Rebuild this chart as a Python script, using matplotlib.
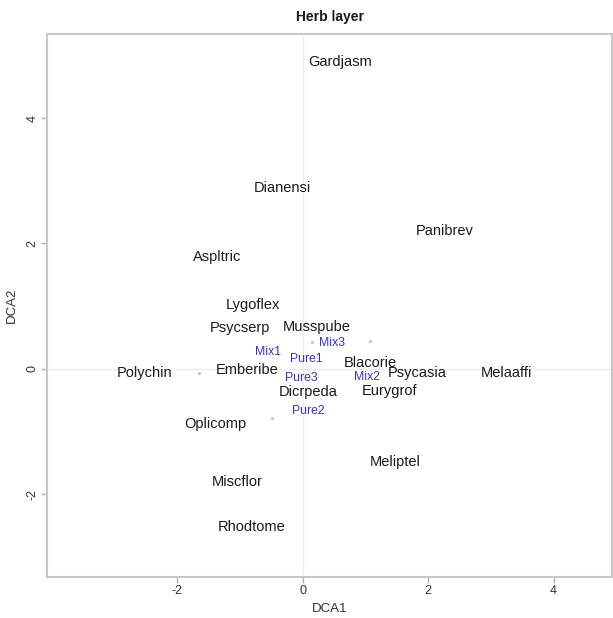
import matplotlib
matplotlib.use("Agg")
import matplotlib.pyplot as plt

plt.rcParams['font.family'] = ['Liberation Sans', 'DejaVu Sans']

# Species scores (DCA1, DCA2)
species = ["Gardjasm", "Dianensi", "Panibrev", "Aspltric", "Lygoflex", "Psycserp",
           "Musspube", "Blacorie", "Emberibe", "Polychin", "Psycasia", "Melaaffi",
           "Dicrpeda", "Eurygrof", "Oplicomp", "Meliptel", "Miscflor", "Rhodtome"]
species_x = [0.59, -0.33, 2.26, -1.37, -0.80, -1.00, 0.22, 1.08, -0.89, -2.52,
             1.82, 3.25, 0.08, 1.39, -1.40, 1.47, -1.04, -0.81]
species_y = [4.90, 2.89, 2.20, 1.79, 1.02, 0.65, 0.67, 0.10, -0.02, -0.06,
             -0.06, -0.06, -0.37, -0.35, -0.88, -1.48, -1.80, -2.52]

# Site scores (DCA1, DCA2)
sites = ["Mix3", "Mix1", "Pure1", "Pure3", "Mix2", "Pure2"]
sites_x = [0.46, -0.56, 0.06, -0.02, 1.02, 0.08]
sites_y = [0.41, 0.27, 0.16, -0.14, -0.13, -0.67]

# Unlabelled points
extra_x = [1.07, -1.66, -0.49, 0.14]
extra_y = [0.45, -0.06, -0.78, 0.43]

x_ticks = [-2, 0, 2, 4]
y_ticks = [-2, 0, 2, 4]

fig = plt.figure(figsize=(6.13, 6.18), dpi=100)
ax = fig.add_axes([47 / 613, 41 / 618, (612 - 47) / 613, (577 - 34) / 618])

ax.set_xlim(-4.08, 4.93)
ax.set_ylim(-3.32, 5.34)

ax.axhline(0, color="#ececec", lw=1.0, zorder=0)
ax.axvline(0, color="#ececec", lw=1.0, zorder=0)

ax.scatter(extra_x, extra_y, s=6, color="#c8c8c8", zorder=1, linewidths=0)

for name, x, y in zip(species, species_x, species_y):
    ax.text(x, y, name, ha="center", va="center", fontsize=10.5, color="#1a1a1a", zorder=3)

for name, x, y in zip(sites, sites_x, sites_y):
    ax.text(x, y, name, ha="center", va="center", fontsize=8.8, color="#3434d0", zorder=4)

ax.set_xticks(x_ticks)
ax.set_yticks(y_ticks)
ax.set_xticklabels([str(v) for v in x_ticks])
ax.set_yticklabels([str(v) for v in y_ticks], rotation=90, va="center")
ax.tick_params(axis="both", direction="out", length=4, width=1, color="#b0b0b0",
               labelsize=9, labelcolor="#333333", pad=2)

for side in ["left", "bottom", "top", "right"]:
    ax.spines[side].set_color("#c8c8c8")
    ax.spines[side].set_linewidth(1.5)

ax.set_xlabel("DCA1", fontsize=9.5, color="#333333", labelpad=4)
ax.set_ylabel("DCA2", fontsize=9.5, color="#333333", labelpad=6)
ax.set_title("Herb layer", fontsize=10, fontweight="bold", color="#1a1a1a", pad=9)

fig.savefig("out.png", dpi=100, facecolor="white")
